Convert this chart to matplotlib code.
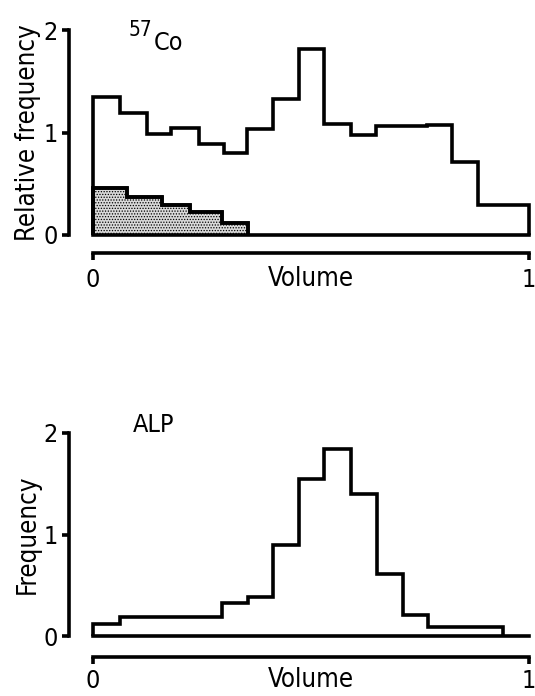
import matplotlib
matplotlib.use("Agg")
import matplotlib.pyplot as plt

# top panel: 57Co, relative frequency
co_edges = [0, 0.062, 0.124, 0.179, 0.243, 0.300, 0.353, 0.412, 0.473, 0.530, 0.592, 0.649,
            0.765, 0.824, 0.882, 1.0]
co_vals = [1.35, 1.19, 0.99, 1.04, 0.89, 0.80, 1.03, 1.33, 1.81, 1.08, 0.98, 1.06, 1.07, 0.71, 0.29]
shade_edges = [0, 0.078, 0.158, 0.222, 0.296, 0.356]
shade_vals = [0.46, 0.37, 0.29, 0.22, 0.12]

# bottom panel: ALP, frequency
alp_edges = [0, 0.062, 0.296, 0.356, 0.413, 0.473, 0.530, 0.592, 0.652, 0.711, 0.769, 0.941]
alp_vals = [0.12, 0.19, 0.33, 0.38, 0.90, 1.55, 1.84, 1.40, 0.61, 0.21, 0.09]

yticks = [0, 1, 2]
xticks = [0, 1]

plt.rcParams["font.family"] = "DejaVu Sans"
plt.rcParams["font.stretch"] = "condensed"
plt.rcParams["hatch.linewidth"] = 0.6

W, H = 535, 696
fig = plt.figure(figsize=(W / 100, H / 100), dpi=100)


def make_axes(x0, y_zero, y_two, spine_y, xpad):
    ax = fig.add_axes([x0 / W, 1 - y_zero / H, (529 - x0) / W, (y_zero - y_two) / H])
    ax.set_xlim(0, 1)
    ax.set_ylim(0, 2)
    for s in ["top", "right"]:
        ax.spines[s].set_visible(False)
    ax.spines["left"].set_position(("outward", (x0 - 69) * 0.72))
    ax.spines["bottom"].set_position(("outward", (spine_y - y_zero) * 0.72))
    ax.spines["left"].set_bounds(0, 2)
    ax.spines["bottom"].set_bounds(0, 1)
    for s in ["left", "bottom"]:
        ax.spines[s].set_linewidth(2.6)
    ax.set_yticks(yticks)
    ax.set_xticks(xticks)
    ax.set_yticklabels([str(t) for t in yticks])
    ax.set_xticklabels([str(t) for t in xticks])
    ax.tick_params(axis="both", width=2.6, length=5, labelsize=18, pad=3)
    ax.tick_params(axis="x", pad=xpad)
    ax.axhline(0, xmin=0, xmax=1, color="black", lw=2.6, clip_on=False)
    return ax


ax1 = make_axes(93, 235, 30, 253, 6)
ax1.stairs(shade_vals, shade_edges, baseline=0, fill=True, facecolor="#d9d9d9",
           edgecolor="black", hatch="......", lw=2.6, clip_on=False)
ax1.stairs(shade_vals, shade_edges, baseline=0, fill=False, color="black", lw=2.6, clip_on=False)
ax1.stairs(co_vals, co_edges, baseline=0, color="black", lw=2.6, clip_on=False)
ax1.set_ylabel("Relative frequency", fontsize=18.5, labelpad=2)
ax1.set_xlabel("Volume", fontsize=18.5, labelpad=-19)
ax1.text(0.108, 2.0, "57", fontsize=15, ha="center", va="center")
ax1.text(0.174, 1.87, "Co", fontsize=18, ha="center", va="center")

ax2 = make_axes(93, 636, 433, 657, 4)
ax2.stairs(alp_vals, alp_edges, baseline=0, color="black", lw=2.6, clip_on=False)
ax2.set_ylabel("Frequency", fontsize=18.5, labelpad=2)
ax2.set_xlabel("Volume", fontsize=18.5, labelpad=-19)
ax2.text(0.14, 2.08, "ALP", fontsize=18, ha="center", va="center")

fig.savefig("out.png", dpi=100)
